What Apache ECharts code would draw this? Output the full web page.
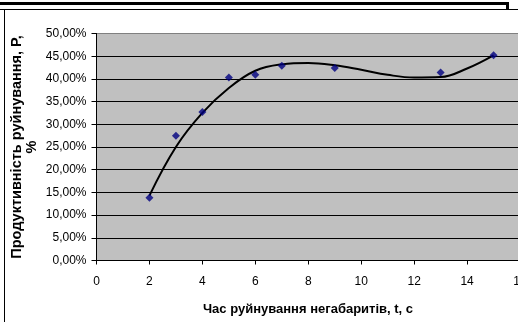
<!DOCTYPE html>
<html>
<head>
<meta charset="utf-8">
<script src="https://cdn.jsdelivr.net/npm/echarts@6/dist/echarts.min.js"></script>
<style>
  html, body { margin: 0; padding: 0; background: #fff; }
  #chart { width: 518px; height: 322px; }
</style>
</head>
<body>
<div id="chart"></div>
<script>
// Measured breaking time (s) and productivity (%)
const timeValues = [2, 3, 4, 5, 6, 7, 9, 13, 15];
const productivity = [13.8, 27.5, 32.7, 40.3, 40.9, 42.9, 42.4, 41.4, 45.2];
// Trend curve through the measurements
const trendTime = [2, 3, 4, 5, 6, 7, 8, 9, 10, 11, 12, 13, 14, 15];
const trendValues = [14.3, 25.0, 32.5, 38.0, 41.8, 43.2, 43.5, 43.0, 42.0, 40.9, 40.3, 40.4, 42.3, 45.2];
const xTicks = { min: 0, max: 16, step: 2 };
const yTicks = { min: 0, max: 50, step: 5 };

const xTitle = 'Час руйнування негабаритів, t, с';
const yTitle = 'Продуктивність руйнування, Р,\n%';

// gridlines are black, the top edge of the plot stays grey like its border
const gridColors = [];
for (let v = yTicks.min; v <= yTicks.max; v += yTicks.step) {
  gridColors.push(v === yTicks.max ? '#808080' : '#000');
}

const font = 'Liberation Sans, Arial, sans-serif';
const chart = echarts.init(document.getElementById('chart'), null, { renderer: 'canvas' });
chart.setOption({
  animation: false,
  backgroundColor: '#ffffff',
  grid: {
    left: 96.5, top: 33.5, width: 423.5, height: 227,
    outerBoundsMode: 'none', containLabel: false,
    show: true, backgroundColor: '#c0c0c0', borderColor: '#808080', borderWidth: 1
  },
  xAxis: {
    type: 'value', min: xTicks.min, max: xTicks.max, interval: xTicks.step,
    axisLine: { lineStyle: { color: '#000', width: 1 } },
    axisTick: { show: true, inside: false, length: 4, lineStyle: { color: '#000' } },
    axisLabel: { fontFamily: font, fontSize: 12, color: '#000', margin: 15, hideOverlap: false },
    splitLine: { show: false }
  },
  yAxis: {
    type: 'value', min: yTicks.min, max: yTicks.max, interval: yTicks.step,
    axisLine: { show: true, lineStyle: { color: '#000', width: 1 } },
    axisTick: { show: true, inside: false, length: 5, lineStyle: { color: '#000' } },
    axisLabel: {
      fontFamily: font, fontSize: 12, color: '#000', margin: 10,
      formatter: v => v.toFixed(2).replace('.', ',') + '%'
    },
    splitLine: { show: true, lineStyle: { color: gridColors, width: 1 } }
  },
  series: [
    {
      type: 'line', data: trendTime.map((t, i) => [t, trendValues[i]]),
      showSymbol: false, smooth: 0.4,
      lineStyle: { color: '#000', width: 2 }, z: 2
    },
    {
      type: 'scatter', data: timeValues.map((t, i) => [t, productivity[i]]),
      symbol: 'diamond', symbolSize: 8, itemStyle: { color: '#000080' }, z: 3
    }
  ],
  graphic: [
    // frame lines around the chart area
    { type: 'polyline', shape: { points: [[0, 3.5], [507.5, 3.5], [507.5, 9]] },
      style: { stroke: '#000', lineWidth: 3, fill: null } },
    { type: 'line', shape: { x1: 0, y1: 9.5, x2: 518, y2: 9.5 }, style: { stroke: '#000', lineWidth: 1 } },
    { type: 'line', shape: { x1: 4.5, y1: 9.5, x2: 4.5, y2: 322 }, style: { stroke: '#000', lineWidth: 1 } },
    {
      type: 'text', x: 308, y: 309,
      style: { text: xTitle, font: 'bold 13px ' + font, fill: '#000', textAlign: 'center', textVerticalAlign: 'middle' }
    },
    {
      type: 'text', x: 24.5, y: 147, rotation: Math.PI / 2,
      style: { text: yTitle, font: 'bold 14.5px ' + font, fill: '#000', textAlign: 'center', textVerticalAlign: 'middle', lineHeight: 15 }
    }
  ]
});
</script>
</body>
</html>
